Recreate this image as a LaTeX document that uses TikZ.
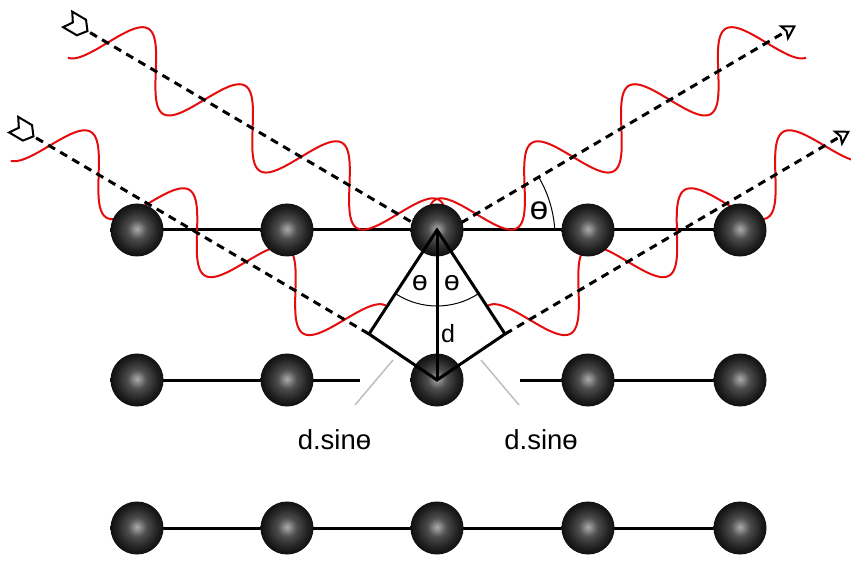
\documentclass[tikz,border=0pt]{standalone}
\usepackage{fontspec}
\setmainfont{Liberation Sans}
\usetikzlibrary{arrows.meta,backgrounds}

\definecolor{wavered}{RGB}{228,12,12}
\definecolor{leadergray}{RGB}{190,190,190}
\definecolor{atomhi}{RGB}{172,172,172}
\definecolor{atommid}{RGB}{78,78,78}
\definecolor{atomedge}{RGB}{16,16,16}
\pgfdeclareradialshading{atomball}{\pgfpoint{0bp}{1bp}}{%
  color(0bp)=(atomhi); color(9bp)=(atommid); color(19bp)=(atomedge!70!atommid);
  color(25bp)=(atomedge); color(50bp)=(atomedge)}

\tikzset{
  atom/.style={circle, inner sep=0pt, minimum size=53pt, shade, shading=atomball},
  lattice/.style={line width=3pt},
  ray/.style={line width=3pt, dash pattern=on 8pt off 6pt},
  wavy/.style={wavered, line width=2pt},
  kite/.style={line width=3pt, line join=miter},
  anglearc/.style={line width=1pt},
  leaderline/.style={leadergray, line width=1.5pt},
  lbl/.style={font=\fontsize{25}{30}\selectfont, inner sep=0pt},
  pathlbl/.style={font=\fontsize{27.5}{32}\selectfont, inner sep=0pt},
  anglelbl/.style={font=\fontsize{28}{33}\selectfont, inner sep=0pt},
  fletch/.style={line width=2pt, line join=miter, fill=white},
  headtip/.style={-{Stealth[open, length=15pt, width=18pt, inset=3pt, line width=2pt]}}
}

\begin{document}
\begin{tikzpicture}[x=1pt, y=-1pt]
\useasboundingbox (0,0) rectangle (851,561);
\clip (0,0) rectangle (851,561);

% ---- lattice planes: atoms
\foreach \r/\yy in {1/230, 2/380, 3/528}{
  \foreach \c/\xx in {1/137, 2/287, 3/437, 4/588, 5/740}{
    \node[atom] (a\r\c) at (\xx,\yy) {};
  }
}

% ---- ray geometry
\coordinate (P)  at (437,237);   % reflection point, upper plane
\coordinate (L)  at (369,334);   % left corner of the path-difference kite
\coordinate (R)  at (505,334);   % right corner
\coordinate (tA) at (78,25.5);   % tail of upper incident ray
\coordinate (tB) at (24,130.8);  % tail of lower incident ray
\coordinate (hA) at (796,25.5);  % head of upper reflected ray
\coordinate (hB) at (850,130.8); % head of lower reflected ray
\coordinate (r2a) at (360,380);
\coordinate (r2b) at (520,380);
\coordinate (g1a) at (393,360);
\coordinate (g1b) at (355,405);
\coordinate (g2a) at (481,360);
\coordinate (g2b) at (519,405);

\begin{pgfonlayer}{background}
  % plane lines
  \draw[lattice] (a11.center) -- (a15.center);
  \draw[lattice] (a21.center) -- (a22.center) -- (r2a);
  \draw[lattice] (r2b) -- (a24.center) -- (a25.center);
  \draw[lattice] (a31.center) -- (a35.center);

  % X-ray waves (incident on the left, mirrored reflection on the right)
  \foreach \m in {1,-1}{
    \draw[wavy] plot[domain=-409:0, samples=260, variable=\u, smooth]
      ({437+\m*(\u*0.8616 - 33*sin(3.20285*(\u+101.6))*0.5075)},
       {237 + \u*0.5075 + 33*sin(3.20285*(\u+101.6))*0.8616});
    \draw[wavy] plot[domain=-396.5:0, samples=260, variable=\u, smooth]
      ({437+\m*(-68 + \u*0.8616 - 33*sin(3.15236*(\u+199.6))*0.5075)},
       {334 + \u*0.5075 + 33*sin(3.15236*(\u+199.6))*0.8616});
  }

  % ray paths
  \draw[ray] (tA) -- (P);
  \draw[ray] (tB) -- (L);
  \draw[ray, headtip] (P) -- (hA);
  \draw[ray, headtip] (R) -- (hB);
\end{pgfonlayer}

% tails of the incident rays
\foreach \t in {tA, tB}{
  \begin{scope}[shift={(\t)}, rotate=-30.5]
    \draw[fletch] (-12,9) -- (-6,0) -- (-12,-9) -- (4,-9) -- (11,0) -- (4,9) -- cycle;
  \end{scope}
}

% path-difference construction
\draw[kite] (a13.center) -- (L) -- (a23.center) -- (R) -- cycle;
\draw[kite] (a13.center) -- (a23.center);
\draw[anglearc] (a13.center) ++(57.3:76) arc[start angle=57.3, end angle=122.7, radius=76];
\draw[anglearc] (P) ++(-3.4:118) arc[start angle=-3.4, end angle=-30.5, radius=118];

% leaders to the path-difference labels
\draw[leaderline] (g1a) -- (g1b);
\draw[leaderline] (g2a) -- (g2b);

% labels
\node[anglelbl] (th1) at (420,283) {ө};
\node[anglelbl] (th2) at (452,283) {ө};
\node[anglelbl, font=\fontsize{33}{38}\selectfont] (th3) at (539,210.5) {ө};
\node[lbl] (dlab) at (448,333.5) {d};
\node[pathlbl] (ds1) at (334.5,440) {d.sinө};
\node[pathlbl] (ds2) at (541,440) {d.sinө};
\end{tikzpicture}
\end{document}
